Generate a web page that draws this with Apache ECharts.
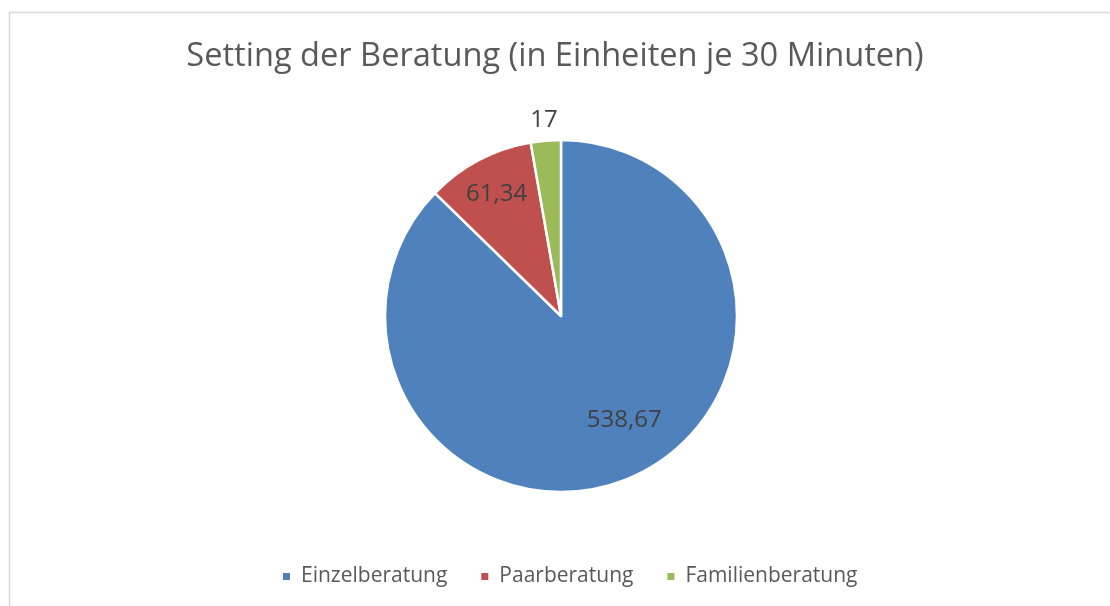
<!DOCTYPE html>
<html>
<head>
<meta charset="utf-8">
<script src="https://cdn.jsdelivr.net/npm/echarts@6/dist/echarts.min.js"></script>
<style>html,body{margin:0;padding:0;background:#fff;}#c{width:1110px;height:606px;}</style>
</head>
<body>
<div id="c"></div>
<script>
const titleText = 'Setting der Beratung (in Einheiten je 30 Minuten)';
const categories = ['Einzelberatung', 'Paarberatung', 'Familienberatung'];
const values = [538.67, 61.34, 17];
const valueLabels = ['538,67', '61,34', '17'];
const colors = ['#4F81BD', '#C0504D', '#9BBB59'];

const FONT = '"Open Sans", sans-serif';
const center = [561, 316];

function pieData(showIdx) {
  return categories.map((name, i) => ({
    name: name,
    value: values[i],
    label: { show: i === showIdx }
  }));
}
function ghost(idx, outerR, startAngle) {
  return {
    type: 'pie', silent: true, center: center, radius: [0, outerR],
    startAngle: startAngle, clockwise: true, z: 5,
    itemStyle: { color: 'rgba(0,0,0,0)', borderWidth: 0 },
    label: {
      position: 'inside', color: '#404040', fontSize: 24, fontFamily: FONT,
      formatter: p => valueLabels[p.dataIndex]
    },
    labelLine: { show: false },
    emphasis: { disabled: true },
    data: pieData(idx)
  };
}

const chart = echarts.init(document.getElementById('c'), null, { renderer: 'canvas' });
chart.setOption({
  backgroundColor: '#ffffff',
  animation: false,
  color: colors,
  graphic: [{
    type: 'rect', left: 7, top: 10,
    shape: { width: 1300, height: 800 },
    style: { fill: 'none', stroke: '#d9d9d9', lineWidth: 1.5 },
    silent: true
  }],
  title: {
    text: titleText, left: 'center', top: 35,
    textStyle: { fontFamily: FONT, fontSize: 32.6, fontWeight: 'normal', color: '#595959' }
  },
  legend: {
    data: categories, left: 276, top: 561, icon: 'rect',
    itemWidth: 9, itemHeight: 9, itemGap: 32,
    textStyle: { fontFamily: FONT, fontSize: 21, color: '#595959', padding: [0, 0, 0, 5] }
  },
  series: [
    {
      type: 'pie', center: center, radius: [0, 176],
      startAngle: 90, clockwise: true,
      itemStyle: { borderColor: '#ffffff', borderWidth: 2.5 },
      label: { show: false }, labelLine: { show: false },
      emphasis: { disabled: true },
      data: categories.map((name, i) => ({ name: name, value: values[i] }))
    },
    ghost(0, 237, 98.5),
    ghost(1, 270, 90),
    ghost(2, 388, 90)
  ]
});
</script>
</body>
</html>
